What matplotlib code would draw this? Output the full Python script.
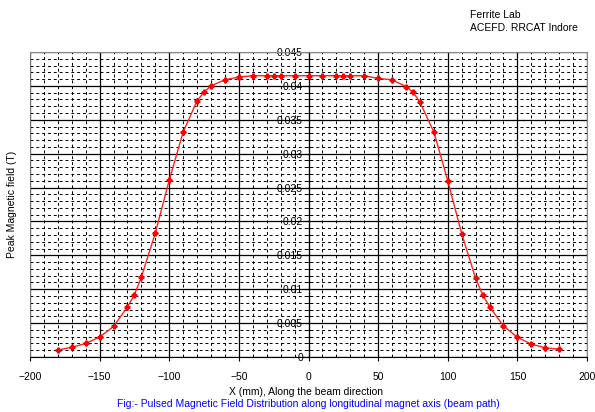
import numpy as np
import matplotlib.pyplot as plt
from matplotlib.ticker import MultipleLocator, FuncFormatter

plt.rcParams['font.family'] = ['Liberation Sans', 'DejaVu Sans']

# position along beam (mm) and peak field (T)
x_mm = [-180, -170, -160, -150, -140, -130, -125, -120, -110, -100, -90, -80,
        -75, -70, -60, -50, -40, -30, -25, -20, -10, 0, 10, 20, 25, 30, 40,
        50, 60, 70, 75, 80, 90, 100, 110, 120, 125, 130, 140, 150, 160, 170, 180]
b_peak = [0.00103, 0.00143, 0.0020, 0.00295, 0.0045, 0.0074, 0.0092, 0.0118,
          0.0183, 0.0261, 0.0332, 0.0378, 0.0391, 0.0400, 0.0409, 0.0413,
          0.0415, 0.0415, 0.0415, 0.0415, 0.0415, 0.0415, 0.0415, 0.0415,
          0.0415, 0.0415, 0.0415, 0.0411, 0.0409, 0.0399, 0.0391, 0.0376,
          0.0332, 0.0260, 0.0182, 0.0116, 0.0092, 0.0074, 0.0046, 0.0029,
          0.0019, 0.00137, 0.00113]

lab_lines = ["Ferrite Lab", "ACEFD. RRCAT Indore"]
x_title = "X (mm), Along the beam direction"
y_title = "Peak Magnetic field (T)"
caption = "Fig:- Pulsed Magnetic Field Distribution along longitudinal magnet axis (beam path)"

fig = plt.figure(figsize=(5.95, 4.12), dpi=100)
ax = fig.add_axes([0.0504, 0.1335, 0.9362, 0.7403])
font_size = 7.5

ax.set_xlim(-200, 200)
ax.set_ylim(0, 0.045)
ax.xaxis.set_major_locator(MultipleLocator(50))
ax.xaxis.set_minor_locator(MultipleLocator(10))
ax.yaxis.set_major_locator(MultipleLocator(0.005))
ax.yaxis.set_minor_locator(MultipleLocator(0.001))
ax.yaxis.set_major_formatter(FuncFormatter(lambda v, p: '%g' % round(v, 4)))

ax.grid(which='major', color='black', lw=0.9, ls='-')
ax.grid(which='minor', color='black', lw=0.7, ls=(0, (3, 3)))
ax.set_axisbelow(True)

# y axis crosses at x = 0 (spreadsheet style)
ax.spines['left'].set_position(('data', 0))
ax.spines['left'].set_color('black')
ax.spines['bottom'].set_color('black')
for s in ['top', 'right']:
    ax.spines[s].set_color('#888888')
ax.axvline(-200, color='#888888', lw=1.2, zorder=3)

ax.tick_params(axis='y', which='major', direction='out', length=3, pad=1, labelsize=font_size)
ax.tick_params(axis='y', which='minor', direction='inout', length=4)
ax.tick_params(axis='x', which='major', direction='out', length=3, pad=8, labelsize=font_size)
ax.tick_params(axis='x', which='minor', length=0)

ax.plot(x_mm, b_peak, color='#ff2020', lw=1.0, marker='P', ms=3.5,
        mfc='red', mec='red', zorder=5)

fig.text(0.515, 0.0485, x_title, ha='center', va='center', fontsize=font_size)
fig.text(0.518, 0.019, caption, ha='center', va='center', fontsize=font_size, color='#0000ff')
fig.text(0.02, 0.505, y_title, ha='center', va='center', rotation=90, fontsize=font_size)
fig.text(0.79, 0.963, lab_lines[0], ha='left', va='center', fontsize=font_size)
fig.text(0.79, 0.932, lab_lines[1], ha='left', va='center', fontsize=font_size)

fig.savefig('out.png', dpi=100)
